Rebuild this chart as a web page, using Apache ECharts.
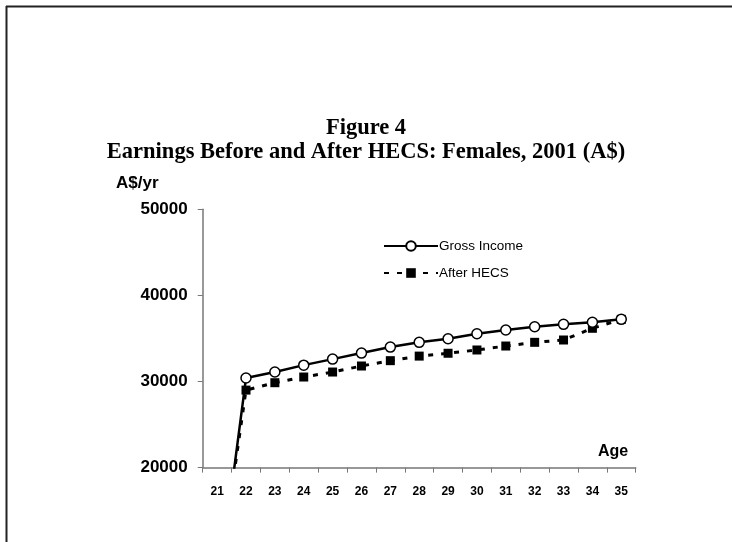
<!DOCTYPE html>
<html>
<head>
<meta charset="utf-8">
<script src="https://cdn.jsdelivr.net/npm/echarts@6/dist/echarts.min.js"></script>
<style>html,body{margin:0;padding:0;background:#fff;}#chart{width:732px;height:542px;}</style>
</head>
<body>
<div id="chart"></div>
<script>
const ages = ['21','22','23','24','25','26','27','28','29','30','31','32','33','34','35'];
const grossIncome = [4700, 30400, 31100, 31900, 32600, 33300, 34000, 34550, 34970, 35550, 35980, 36360, 36640, 36880, 37220];
const afterHECS = [5500, 29000, 29860, 30520, 31100, 31800, 32420, 32950, 33280, 33660, 34120, 34550, 34820, 36180, 37220];
const yTicks = [20000, 30000, 40000, 50000];

const chart = echarts.init(document.getElementById('chart'));
chart.setOption({
  backgroundColor: '#ffffff',
  animation: false,
  title: {
    text: 'Figure 4\nEarnings Before and After HECS: Females, 2001 (A$)',
    left: 'center',
    top: 111,
    textStyle: {
      fontFamily: '"Liberation Serif", "Times New Roman", serif',
      fontWeight: 'bold',
      fontSize: 22.5,
      lineHeight: 24,
      color: '#000'
    }
  },
  legend: {
    orient: 'vertical',
    left: 378,
    top: 234,
    itemWidth: 54,
    itemHeight: 12,
    itemGap: 13,
    textStyle: { fontFamily: '"Liberation Sans", Arial, sans-serif', fontSize: 13.5, color: '#000', padding: [0,0,0,-4] },
    data: ['Gross Income', 'After HECS']
  },
  grid: { left: 202.7, right: 96.3, top: 209.3, bottom: 74.4, containLabel: false },
  xAxis: {
    type: 'category',
    data: ages,
    boundaryGap: true,
    axisLine: { lineStyle: { color: '#777', width: 1.5 } },
    axisTick: { show: true, length: 5, lineStyle: { color: '#777' } },
    axisLabel: { fontFamily: '"Liberation Sans", Arial, sans-serif', fontWeight: 'bold', fontSize: 12, color: '#000', margin: 18 },
    splitLine: { show: false }
  },
  yAxis: {
    type: 'value',
    min: yTicks[0],
    max: yTicks[yTicks.length - 1],
    interval: 10000,
    axisLine: { show: true, lineStyle: { color: '#777', width: 1.5 } },
    axisTick: { show: true, length: 5, lineStyle: { color: '#777' } },
    axisLabel: { fontFamily: '"Liberation Sans", Arial, sans-serif', fontWeight: 'bold', fontSize: 17, color: '#000', margin: 15, formatter: function (v) { return String(v); } },
    splitLine: { show: false }
  },
  series: [
    {
      name: 'Gross Income',
      type: 'line',
      data: grossIncome,
      clip: true,
      symbol: 'circle',
      symbolSize: 10,
      itemStyle: { color: '#fff', borderColor: '#000', borderWidth: 1.5 },
      lineStyle: { color: '#000', width: 2.5, type: 'solid' },
      z: 3
    },
    {
      name: 'After HECS',
      type: 'line',
      data: afterHECS,
      clip: true,
      symbol: 'rect',
      symbolSize: 9,
      itemStyle: { color: '#000', borderColor: '#000', borderWidth: 0 },
      lineStyle: { color: '#000', width: 3, type: [5, 8] },
      z: 2
    }
  ],
  graphic: [
    { type: 'line', shape: { x1: 6, y1: 6.5, x2: 732, y2: 6.5 }, style: { stroke: '#222', lineWidth: 2 } },
    { type: 'line', shape: { x1: 6.5, y1: 6, x2: 6.5, y2: 542 }, style: { stroke: '#222', lineWidth: 2 } },
    { type: 'text', left: 116, top: 175, style: { text: 'A$/yr', fontFamily: '"Liberation Sans", Arial, sans-serif', fontWeight: 'bold', fontSize: 17, fill: '#000' } },
    { type: 'text', left: 598, top: 444, style: { text: 'Age', fontFamily: '"Liberation Sans", Arial, sans-serif', fontWeight: 'bold', fontSize: 16, fill: '#000' } }
  ]
});
</script>
</body>
</html>
